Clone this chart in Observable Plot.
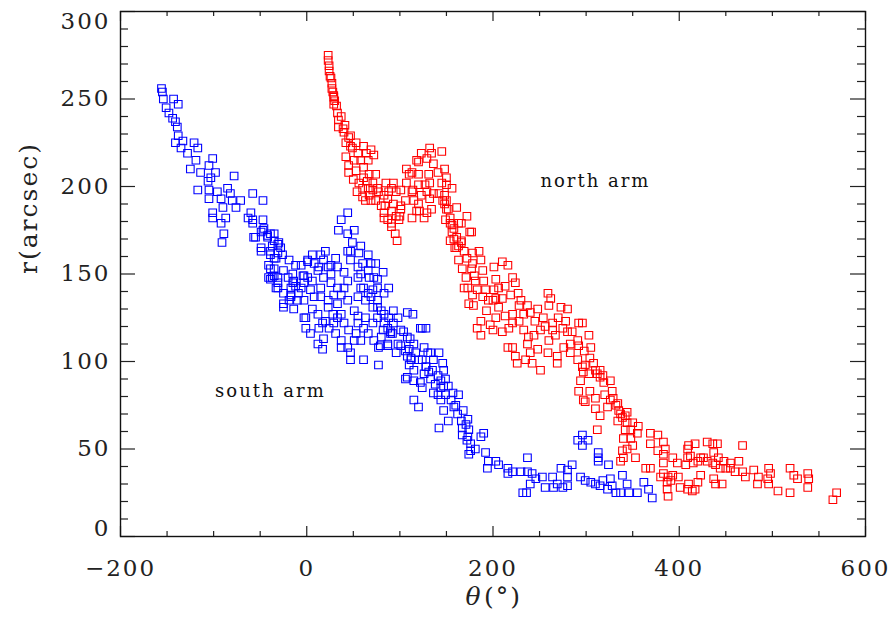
<!DOCTYPE html>
<html><head><meta charset="utf-8">
<script src="https://cdn.jsdelivr.net/npm/d3@7"></script>
<script src="https://cdn.jsdelivr.net/npm/@observablehq/plot@0.6"></script>
<style>
body{margin:0;background:#fff;}
#chart svg text{letter-spacing:2px;}
</style></head><body><div id="chart"></div>
<script>
// South arm (blue): [theta (deg), r (arcsec)]
const southArm = [
[-156,256],[-155,254],[-154,250],[-143,250],[-138,247],[-151,245],[-148,242],[-144,239],[-141,237],[-139,234],
[-138,229],[-141,225],[-133,226],[-135,222],[-128,219],[-121,225],[-117,222],[-119,215],[-125,210],[-114,208],
[-101,216],[-105,212],[-98,208],[-103,205],[-78,206],[-106,203],[-117,198],[-105,198],[-96,197],[-85,199],
[-82,196],[-105,193],[-92,193],[-80,192],[-71,192],[-58,196],[-47,192],[-76,188],[-90,188],[-101,185],
[-101,182],[-87,182],[-92,179],[-89,173],[-91,168],[-60,185],[-58,181],[-47,181],[-46,176],[-49,174],
[-55,171],[-42,172],[-35,173],[-30,168],[-37,166],[-49,165],[-39,161],[-33,159],[-19,158],[-12,155],
[-39,153],[-35,149],[-39,147],[-31,142],[-20,148],[-15,145],[-17,138],[-6,142],[-3,149],[1,157],
[-39,173],[-31,167],[-35,159],[-49,163],[-37,148],[-33,142],[-25,131],[-17,137],[-6,155],[1,148],
[6,161],[15,161],[20,163],[31,159],[12,152],[23,154],[15,142],[26,145],[4,141],[-3,135],
[6,130],[12,127],[-1,125],[-1,119],[17,122],[24,119],[31,116],[18,113],[12,110],[17,107],
[37,112],[44,108],[47,105],[47,101],[37,108],[33,133],[37,127],[44,135],[51,129],[55,137],
[55,122],[61,119],[66,116],[72,112],[80,114],[87,110],[92,116],[77,108],[37,181],[44,185],
[34,175],[44,173],[51,175],[49,168],[58,166],[47,163],[56,162],[66,161],[69,156],[74,156],
[82,151],[88,142],[76,147],[67,148],[58,150],[61,142],[69,137],[76,135],[83,139],[80,129],
[71,131],[58,142],[55,148],[93,129],[108,128],[114,127],[98,125],[87,119],[90,117],[101,118],
[108,114],[115,110],[122,119],[126,108],[98,110],[96,105],[108,103],[112,101],[106,90],[115,89],
[122,88],[126,93],[128,97],[61,101],[77,98],[-25,152],[-31,148],[-15,150],[-12,143],[-9,139],
[-3,145],[6,146],[18,148],[26,150],[33,142],[29,138],[23,135],[15,137],[8,137],[-4,149],
[-63,182],[-58,179],[-57,171],[-47,175],[-42,171],[-35,169],[-28,165],[-39,163],[-31,162],[-26,161],
[-41,155],[-35,153],[-41,148],[-31,145],[-25,139],[-17,142],[-14,146],[1,158],[8,156],[13,154],
[18,158],[26,155],[33,154],[40,151],[44,146],[40,142],[37,138],[23,131],[28,127],[33,125],
[40,122],[45,118],[53,116],[58,112],[51,112],[29,122],[20,123],[13,119],[4,116],[-3,125],
[-14,130],[-10,135],[-19,135],[-25,133],[44,163],[47,158],[55,154],[60,156],[66,152],[72,148],
[76,142],[71,141],[66,139],[63,135],[76,131],[83,127],[88,125],[93,122],[83,122],[76,125],
[71,122],[63,125],[55,126],[101,109],[106,106],[117,105],[120,101],[128,97],[131,94],[141,92],
[144,89],[149,90],[152,86],[141,81],[149,81],[155,78],[160,75],[166,66],[171,64],[167,58],
[172,55],[176,49],
[82,118],[90,116],[87,109],[104,117],[111,113],[124,119],[128,119],[110,107],[112,102],[110,98],
[115,95],[108,91],[124,101],[130,105],[133,105],[136,101],[142,105],[146,99],[147,95],[135,95],
[133,90],[138,87],[144,85],[124,85],[136,82],[147,86],[157,82],[163,81],[115,78],[120,74],
[144,78],[147,72],[158,74],[162,70],[168,72],[173,67],[152,66],[167,62],[174,61],[173,57],
[176,53],[142,62],[181,50],[174,47],[190,59],[187,57],[192,48],[195,43],[194,39],[203,43],
[206,41],[216,39],[221,37],[216,36],[237,45],[237,37],[230,37],[242,36],[246,33],[240,30],
[253,34],[232,25],[236,25],[256,28],[264,34],[269,30],[265,28],[273,39],[280,38],[285,41],
[280,34],[275,28],[280,29],[294,34],[299,32],[305,31],[310,30],[318,32],[315,29],[326,33],
[328,29],[323,27],[332,25],[337,25],[339,35],[344,30],[346,25],[355,25],[362,31],[367,27],
[371,22],[324,41],[313,48],[313,45],[313,43],[296,58],[302,55],[296,52],[291,55],[79,109]
];
// North arm (red): [theta (deg), r (arcsec)]
const northArm = [
[23,275],[23,272],[24,269],[24,266],[25,263],[26,262],[27,256],[28,254],[29,252],[30,249],
[29,247],[33,242],[34,238],[34,234],[39,233],[40,231],[47,229],[42,225],[47,223],[49,222],
[61,223],[69,221],[72,218],[42,217],[51,215],[58,215],[45,212],[53,209],[45,208],[61,211],
[67,207],[74,207],[61,205],[71,202],[66,199],[60,199],[60,194],[67,195],[76,199],[77,197],
[74,192],[80,189],[85,202],[88,197],[93,202],[96,197],[101,198],[87,193],[93,190],[101,189],
[101,187],[83,185],[83,182],[91,179],[91,177],[95,173],[97,169],[100,183],[99,181],[113,182],
[107,210],[110,207],[120,207],[107,202],[113,197],[120,201],[115,192],[120,190],[121,186],[126,182],
[129,185],[123,219],[132,222],[134,219],[145,220],[120,214],[131,207],[132,202],[129,197],[132,193],
[136,196],[134,187],[148,210],[150,205],[150,201],[148,195],[148,190],[156,199],[152,187],[161,188],
[172,183],[154,182],[156,178],[163,179],[156,174],[158,170],[166,169],[175,174],[159,165],[169,163],
[185,163],[150,192],[154,179],[166,179],[177,174],[161,171],[166,168],[161,165],[178,162],[163,158],
[27,259],[29,251],[32,246],[37,240],[41,235],[45,228],[53,225],[55,219],[64,219],[66,215],
[50,204],[56,202],[65,203],[71,198],[54,197],[63,192],[69,192],[83,195],[91,199],[84,189],
[91,186],[87,181],[96,183],[106,192],[114,198],[123,195],[127,201],[118,186],[113,208],[118,215],
[129,216],[136,213],[141,208],[145,202],[142,196],[146,192],[150,187],[149,181],[158,176],[154,169],
[163,166],[172,159],[177,153],[180,149],[173,142],[183,141],[192,141],[195,135],[193,129],[203,136],
[213,143],[219,138],[228,132],[213,126],[221,122],[245,123],[251,118],[256,120],[267,115],[278,123],
[285,117],[292,109],[298,106],[304,102],[299,98],[310,95],[318,92],[304,83],[320,81],[329,79],
[334,66],[342,69],
[167,153],[171,148],[169,142],[178,156],[187,158],[189,152],[181,146],[190,146],[178,138],[174,133],
[179,132],[189,137],[201,154],[210,157],[216,155],[203,147],[206,142],[201,141],[221,148],[224,145],
[227,139],[210,136],[200,135],[206,131],[203,125],[187,123],[183,119],[187,115],[197,121],[200,118],
[217,119],[210,117],[221,127],[230,135],[237,132],[240,128],[233,127],[228,123],[233,118],[238,114],
[244,115],[237,110],[248,107],[216,108],[221,108],[224,103],[226,99],[235,101],[242,99],[240,105],
[251,95],[259,139],[262,136],[260,132],[248,130],[254,125],[264,122],[270,125],[273,131],[280,130],
[275,119],[280,117],[264,118],[260,112],[259,105],[269,103],[269,99],[276,108],[283,110],[283,105],
[292,122],[296,122],[303,115],[305,108],[291,112],[291,101],[296,97],[297,94],[294,89],[303,93],
[308,99],[312,93],[315,91],[319,88],[326,89],[328,83],[292,83],[297,78],[310,79],[310,73],
[315,69],[326,78],[334,76],[337,70],[344,71],[315,95],[299,77],[323,74],[332,75],[335,72],
[339,68],[344,65],[350,65],[356,63],[342,61],[348,61],[355,59],[340,56],[348,56],[350,52],
[344,50],[339,49],[337,43],[340,45],[353,45],[312,61],[369,59],[377,58],[369,53],[383,54],
[385,50],[377,49],[383,47],[393,45],[383,42],[364,39],[369,39],[380,34],[383,36],[388,34],
[393,35],[387,31],[391,32],[399,34],[387,27],[388,23],[401,28],[398,42],[409,45],[412,46],
[409,50],[410,52],[417,53],[407,41],[415,42],[420,43],[423,45],[426,45],[430,54],[436,53],
[441,53],[437,48],[430,43],[436,42],[442,45],[448,43],[439,41],[444,39],[450,39],[455,42],
[464,43],[455,39],[460,37],[468,37],[471,34],[437,33],[439,30],[446,30],[423,35],[420,31],
[410,30],[409,27],[414,26],[417,27],[468,52],[480,38],[485,34],[484,30],[496,39],[498,36],
[495,33],[496,30],[506,26],[519,39],[523,35],[527,33],[538,36],[539,33],[538,28],[519,25],
[569,25],[565,21]
];
const armLabels = ["north arm", "south arm"];
const armLabelTheta = [310, -39];
const armLabelR = [203, 83];

const xMajorTicks = [-200, 0, 200, 400, 600];
const xMinorTicks = [-150,-100,-50,50,100,150,250,300,350,450,500,550];
const yMajorTicks = [0, 50, 100, 150, 200, 250, 300];
const yMinorTicks = [10,20,30,40,60,70,80,90,110,120,130,140,160,170,180,190,210,220,230,240,260,270,280,290];

const W = 892, H = 624, mt = 11, mr = 27, mb = 88, ml = 120;
const ih = H - mt - mb, iw = W - ml - mr;
const axisColor = "#222";
const font = "'DejaVu Serif', 'Liberation Serif', serif";

const labelData = armLabels.map((t, i) => ({t, x: armLabelTheta[i], y: armLabelR[i]}));
const yInner = yMajorTicks.filter(v => v !== 0 && v !== 300);

const chart = Plot.plot({
  width: W, height: H,
  marginTop: mt, marginRight: mr, marginBottom: mb, marginLeft: ml,
  style: {fontFamily: font, fontSize: "23px", color: axisColor, background: "#fff"},
  x: {domain: [-200, 600], ticks: xMajorTicks, tickSize: 0, tickPadding: 23, label: null},
  y: {domain: [0, 300], axis: null},
  marks: [
    Plot.dot(southArm, {x: d => d[0], y: d => d[1], symbol: "square", r: 4.3, stroke: "#0000ff", fill: "none", strokeWidth: 1.1}),
    Plot.dot(northArm, {x: d => d[0], y: d => d[1], symbol: "square", r: 4.3, stroke: "#ff0000", fill: "none", strokeWidth: 1.1}),
    // bottom ticks
    Plot.tickX(xMinorTicks, {x: d => d, insetTop: ih - 5, stroke: axisColor, strokeWidth: 1.2}),
    Plot.tickX(xMajorTicks, {x: d => d, insetTop: ih - 10, stroke: axisColor, strokeWidth: 1.2}),
    // top ticks
    Plot.tickX(xMinorTicks, {x: d => d, insetBottom: ih - 5, stroke: axisColor, strokeWidth: 1.2}),
    Plot.tickX(xMajorTicks, {x: d => d, insetBottom: ih - 10, stroke: axisColor, strokeWidth: 1.2}),
    // left ticks
    Plot.tickY(yMinorTicks, {y: d => d, insetRight: iw - 8, stroke: axisColor, strokeWidth: 1.2}),
    Plot.tickY(yMajorTicks, {y: d => d, insetRight: iw - 15, stroke: axisColor, strokeWidth: 1.2}),
    // right ticks
    Plot.tickY(yMinorTicks, {y: d => d, insetLeft: iw - 8, stroke: axisColor, strokeWidth: 1.2}),
    Plot.tickY(yMajorTicks, {y: d => d, insetLeft: iw - 15, stroke: axisColor, strokeWidth: 1.2}),
    Plot.frame({stroke: "#111", strokeWidth: 1.4}),
    // y tick labels
    Plot.text(yInner, {y: d => d, text: d => String(d), frameAnchor: "left", textAnchor: "end", dx: -10, fontSize: 23, fill: axisColor}),
    Plot.text([0], {y: d => d, text: d => String(d), frameAnchor: "left", textAnchor: "end", dx: -10, dy: -8, fontSize: 23, fill: axisColor}),
    Plot.text([300], {y: d => d, text: d => String(d), frameAnchor: "left", textAnchor: "end", dx: -10, dy: 10, fontSize: 23, fill: axisColor}),
    Plot.text(labelData, {x: "x", y: "y", text: "t", fontSize: 18, fill: "#111"}),
    Plot.text(["r(arcsec)"], {frameAnchor: "left", dx: -92, rotate: -90, fontSize: 25, fill: axisColor}),
    Plot.text(["θ"], {frameAnchor: "bottom", dx: -19, dy: 68, fontSize: 25, fontStyle: "italic", fill: axisColor}),
    Plot.text(["(°)"], {frameAnchor: "bottom", dx: 10, dy: 68, fontSize: 25, fill: axisColor})
  ]
});
document.getElementById("chart").appendChild(chart);
</script></body></html>
